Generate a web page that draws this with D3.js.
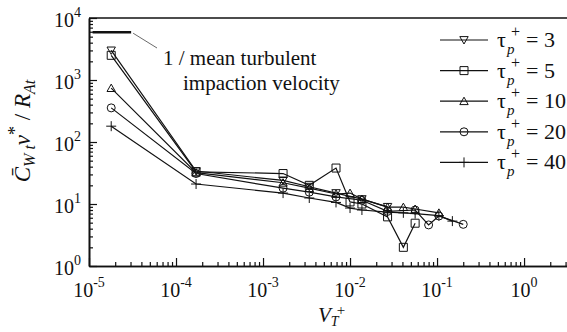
<html>
<head>
<meta charset="utf-8">
<script src="https://cdnjs.cloudflare.com/ajax/libs/d3/7.8.5/d3.min.js"></script>
<style>
  body { margin: 0; background: #fff; }
</style>
</head>
<body>
<svg width="567" height="332"></svg>
<script>
// series labels (tau_p+)
const tauLabels = ["3", "5", "10", "20", "40"];
const markerTypes = ["tridown", "square", "triup", "circle", "plus"];

// V_T+ and C_Wt nu* / R_At
const vt3  = [1.8e-5, 1.7e-4, 1.7e-3, 3.4e-3, 6.9e-3, 1.37e-2, 2.7e-2];
const cw3  = [3000, 34, 24, 19, 15, 12, 9];
const vt5  = [1.8e-5, 1.7e-4, 1.7e-3, 3.4e-3, 6.9e-3, 1.0e-2, 1.37e-2, 2.7e-2, 4.1e-2, 5.6e-2];
const cw5  = [2500, 33, 31, 20, 38, 10.8, 10, 6.2, 2.0, 4.9];
const vt10 = [1.8e-5, 1.7e-4, 1.7e-3, 3.4e-3, 6.9e-3, 1.0e-2, 1.37e-2, 2.7e-2, 4.1e-2, 5.6e-2, 0.105];
const cw10 = [740, 32, 22, 18, 14.5, 15, 12, 8.9, 8.9, 8.3, 7.2];
const vt20 = [1.8e-5, 1.7e-4, 1.7e-3, 3.4e-3, 6.9e-3, 1.37e-2, 2.7e-2, 5.6e-2, 8.0e-2, 0.105, 0.2];
const cw20 = [355, 31, 18, 15.5, 13, 11.5, 7.6, 8.0, 4.6, 6.4, 4.7];
const vt40 = [1.8e-5, 1.7e-4, 1.7e-3, 3.4e-3, 6.9e-3, 1.0e-2, 1.37e-2, 2.7e-2, 4.1e-2, 5.6e-2, 0.105, 0.15];
const cw40 = [180, 21, 15, 12.5, 10.6, 8.6, 8.0, 7.4, 7.2, 7.0, 6.5, 5.3];

// 1 / mean turbulent impaction velocity
const impactX = [1.1e-5, 3.05e-5];
const impactY = 5900;

const xMajor = [1e-5, 1e-4, 1e-3, 1e-2, 1e-1, 1e0];
const xMajorExp = ["-5", "-4", "-3", "-2", "-1", "0"];
const yMajor = [1e0, 1e1, 1e2, 1e3, 1e4];
const yMajorExp = ["0", "1", "2", "3", "4"];

const seriesX = [vt3, vt5, vt10, vt20, vt40];
const seriesY = [cw3, cw5, cw10, cw20, cw40];

const svg = d3.select("svg");
const mLeft = 89, mTop = 18, mBottom = 266, mRight = 568;

const x = d3.scaleLog().domain([1e-5, Math.pow(10, 0.505)]).range([mLeft, mRight]);
const y = d3.scaleLog().domain([1, 1e4]).range([mBottom, mTop]);

function minors(lo, hi) {
  let out = [];
  for (let e = lo; e < hi; e++)
    for (let k = 2; k <= 9; k++) out.push(k * Math.pow(10, e));
  return out;
}
const xMinor = minors(-5, 1).filter(v => v < x.domain()[1]);
const yMinor = minors(0, 4);

function marker(type) {
  switch (type) {
    case "tridown": return "M-4.2,-3.4L4.2,-3.4L0,4Z";
    case "triup": return "M-4.2,3.4L4.2,3.4L0,-4Z";
    case "square": return "M-4,-4H4V4H-4Z";
    case "circle": return "M4,0A4,4 0 1,1 -4,0A4,4 0 1,1 4,0Z";
    case "plus": return "M-5,0H5M0,-5V5";
  }
}

// axes
const gx = svg.append("g").attr("transform", `translate(0,${mBottom})`);
gx.append("g").call(d3.axisBottom(x).tickValues(xMinor).tickSize(-4).tickFormat("").tickSizeOuter(0));
gx.append("g").call(d3.axisBottom(x).tickValues(xMajor).tickSize(-8).tickFormat("").tickSizeOuter(0));

const gy = svg.append("g").attr("transform", `translate(${mLeft},0)`);
gy.append("g").call(d3.axisLeft(y).tickValues(yMinor).tickSize(-4).tickFormat("").tickSizeOuter(0));
gy.append("g").call(d3.axisLeft(y).tickValues(yMajor).tickSize(-8).tickFormat("").tickSizeOuter(0));

svg.selectAll(".domain").attr("stroke", "#111").attr("stroke-width", 1.6);
svg.selectAll(".tick line").attr("stroke", "#111").attr("stroke-width", 1.2);

// top frame line
svg.append("line").attr("x1", mLeft).attr("x2", mRight).attr("y1", mTop).attr("y2", mTop)
  .attr("stroke", "#111").attr("stroke-width", 1.6);

const txt = (sel) => sel.append("text").attr("font-family", "Liberation Serif").attr("fill", "#111");

// tick labels
xMajor.forEach((v, i) => {
  const t = txt(svg).attr("x", x(v)).attr("y", 297)
    .attr("text-anchor", "middle").attr("font-size", 20);
  t.append("tspan").text("10");
  t.append("tspan").attr("dy", -10).attr("font-size", 14).text(xMajorExp[i]);
});
yMajor.forEach((v, i) => {
  const t = txt(svg).attr("x", 81).attr("y", y(v) + 9)
    .attr("text-anchor", "end").attr("font-size", 20);
  t.append("tspan").text("10");
  t.append("tspan").attr("dy", -10).attr("font-size", 14).text(yMajorExp[i]);
});

// axis titles
const xt = txt(svg).attr("x", 318).attr("y", 322).attr("font-size", 21);
xt.append("tspan").attr("font-style", "italic").text("V");
xt.append("tspan").attr("font-style", "italic").attr("font-size", 14).attr("dy", 4).text("T");
xt.append("tspan").attr("font-size", 15).attr("dx", -2).attr("dy", -11).text("+");

const yt = txt(svg).attr("transform", "translate(30,131) rotate(-90)")
  .attr("text-anchor", "middle").attr("font-size", 23);
yt.append("tspan").attr("font-style", "italic").text("C\u0304");
yt.append("tspan").attr("font-style", "italic").attr("font-size", 16).attr("dy", 5).text("W t");
yt.append("tspan").attr("font-style", "italic").attr("dy", -5).text("\u03bd");
yt.append("tspan").attr("font-size", 18).attr("dy", -9).text("*");
yt.append("tspan").attr("dy", 9).text(" / ");
yt.append("tspan").attr("font-style", "italic").text("R");
yt.append("tspan").attr("font-style", "italic").attr("font-size", 16).attr("dy", 5).text("At");

// data
const line = d3.line().x(d => x(d[0])).y(d => y(d[1]));
seriesX.forEach((xs, i) => {
  const pts = xs.map((v, j) => [v, seriesY[i][j]]);
  svg.append("path").attr("d", line(pts)).attr("fill", "none")
    .attr("stroke", "#111").attr("stroke-width", 1.2);
  svg.append("g").selectAll("path").data(pts).join("path")
    .attr("transform", d => `translate(${x(d[0])},${y(d[1])})`)
    .attr("d", marker(markerTypes[i]))
    .attr("fill", "none").attr("stroke", "#111").attr("stroke-width", 1);
});

// impaction velocity level + note
svg.append("line").attr("x1", x(impactX[0])).attr("x2", x(impactX[1]))
  .attr("y1", y(impactY)).attr("y2", y(impactY))
  .attr("stroke", "#111").attr("stroke-width", 2.5);
svg.append("line").attr("x1", x(impactX[1]) + 2).attr("y1", y(impactY) + 1)
  .attr("x2", 157).attr("y2", 48).attr("stroke", "#444").attr("stroke-width", 0.8);
txt(svg).attr("x", 163).attr("y", 65).attr("font-size", 21).text("1 / mean turbulent");
txt(svg).attr("x", 183).attr("y", 90).attr("font-size", 21).text("impaction velocity");

// legend
tauLabels.forEach((lab, i) => {
  const ly = 40 + i * 30.6;
  const g = svg.append("g");
  g.append("line").attr("x1", 440).attr("x2", 488).attr("y1", ly).attr("y2", ly)
    .attr("stroke", "#111").attr("stroke-width", 1.2);
  g.append("path").attr("transform", `translate(464,${ly})`).attr("d", marker(markerTypes[i]))
    .attr("fill", "none").attr("stroke", "#111").attr("stroke-width", 1);
  txt(g).attr("x", 497).attr("y", ly + 7).attr("font-size", 22).text("\u03c4");
  txt(g).attr("x", 507).attr("y", ly + 14).attr("font-size", 15)
    .attr("font-style", "italic").text("p");
  txt(g).attr("x", 511).attr("y", ly - 3).attr("font-size", 16).text("+");
  txt(g).attr("x", 526).attr("y", ly + 7).attr("font-size", 22).text("= " + lab);
});
</script>
</body>
</html>
